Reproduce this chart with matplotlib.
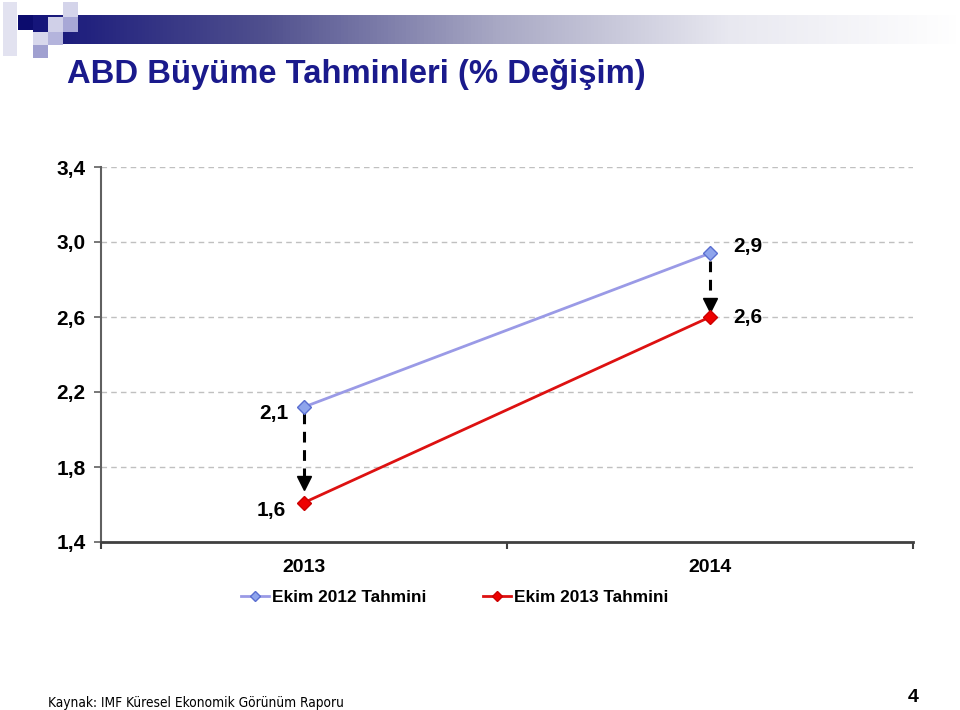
import numpy as np
import matplotlib
matplotlib.use("Agg")
import matplotlib.pyplot as plt
from matplotlib import font_manager
from matplotlib.patches import Rectangle
from matplotlib.colors import LinearSegmentedColormap

plt.rcParams['font.family'] = ['Liberation Sans', 'DejaVu Sans']

# veriler
years = ['2013', '2014']
series_names = ['Ekim 2012 Tahmini', 'Ekim 2013 Tahmini']
ekim2012 = [2.12, 2.94]
ekim2013 = [1.61, 2.6]
y_ticks = [1.4, 1.8, 2.2, 2.6, 3.0, 3.4]
title = 'ABD Büyüme Tahminleri (% Değişim)'
source = 'Kaynak: IMF Küresel Ekonomik Görünüm Raporu'
page_no = '4'


def tr_fmt(v):
    return f'{v:.1f}'.replace('.', ',')


# dar sans yazı tipi (varsa)
narrow = None
for f in font_manager.fontManager.ttflist:
    if 'Sans' in f.name and 'Mono' not in f.name and f.style == 'normal' \
            and f.weight in (400, 'normal') and ('Narrow' in f.name or f.stretch == 'condensed'):
        narrow = f.fname
        break

fig = plt.figure(figsize=(9.6, 7.1), dpi=100)

# --- üst dekor (gradyan bant ve kareler) ---
deco = fig.add_axes([0, 0, 1, 1], zorder=0)
deco.set_xlim(0, 960)
deco.set_ylim(710, 0)
deco.axis('off')
grad = LinearSegmentedColormap.from_list('bar', ['#15157a', '#50508e', '#a8a8c4', '#e8e8f0', '#ffffff'])
deco.imshow(np.linspace(0, 1, 256)[None, :], cmap=grad, aspect='auto',
            extent=[33, 960, 44, 15], zorder=1)
squares = [
    (3, 2, 14, 54, '#e2e2f0'),
    (18, 15, 15, 15, '#0c0c6e'),
    (48, 17, 15, 15, '#d0d0e8'),
    (63, 2, 15, 15, '#d4d4ea'),
    (63, 17, 15, 15, '#a8a8d6'),
    (33, 32, 15, 13, '#d8d8ec'),
    (48, 32, 15, 13, '#b4b4dc'),
    (33, 45, 15, 13, '#a0a0d0'),
]
for sx, sy, sw, sh, sc in squares:
    deco.add_patch(Rectangle((sx, sy), sw, sh, facecolor=sc, edgecolor='none', zorder=2))

fig.text(67 / 960, 1 - 75 / 710, title, fontsize=23.6, fontweight='bold',
         color='#1a1a8c', ha='left', va='center')

# --- grafik ---
ax = fig.add_axes([101 / 960, 1 - 542 / 710, 812 / 960, 375 / 710], zorder=2)
ax.patch.set_alpha(0)
x = np.arange(len(years))

ax.plot(x, ekim2012, color='#9a9ae6', lw=2, marker='D', markersize=7,
        markerfacecolor='#8ea4ec', markeredgecolor='#5a6ed0', label=series_names[0], zorder=3)
ax.plot(x, ekim2013, color='#dd1111', lw=2, marker='D', markersize=7,
        markerfacecolor='#ee0000', markeredgecolor='#cc0000', label=series_names[1], zorder=3)

# düşüşü gösteren kesikli oklar
arrow_gap = [(0.03, 0.07), (0.04, 0.03)]
for i in range(len(years)):
    top = ekim2012[i] - arrow_gap[i][0]
    tip = ekim2013[i] + arrow_gap[i][1]
    ax.plot([x[i], x[i]], [top, tip + 0.02], color='black', lw=2.2,
            linestyle=(0, (3.5, 2.5)), zorder=2)
    ax.plot(x[i], tip + 0.035, marker='v', color='black', markersize=10.5, zorder=2)

# değer etiketleri
lab_style = dict(fontsize=15, fontweight='bold', va='center', textcoords='offset pixels')
offsets = {(0, 0): (-15, -6, 'right'), (1, 0): (-18, -8, 'right'),
           (0, 1): (23, 7, 'left'), (1, 1): (23, 0, 'left')}
for s, vals in enumerate([ekim2012, ekim2013]):
    for i, v in enumerate(vals):
        dx, dy, ha = offsets[(s, i)]
        ax.annotate(tr_fmt(v), (x[i], v), xytext=(dx, dy), ha=ha, **lab_style)

ax.set_xlim(-0.5, 1.5)
ax.set_ylim(1.4, 3.4)
ax.set_yticks(y_ticks)
ax.set_yticklabels([tr_fmt(t) for t in y_ticks], fontsize=15, fontweight='bold')
ax.set_xticks(x)
ax.set_xticklabels(years, fontsize=14, fontweight='bold')
ax.set_xticks([-0.5, 0.5, 1.5], minor=True)
ax.tick_params(axis='x', which='major', length=0, pad=12)
ax.tick_params(axis='x', which='minor', length=5, width=1.5, color='#404040', direction='out')
ax.tick_params(axis='y', length=5, width=1.2, color='#606060', pad=6)

for yv in y_ticks[1:]:
    ax.axhline(yv, color='#c0c0c0', lw=1, linestyle=(0, (4, 3)), zorder=1)

ax.spines['top'].set_visible(False)
ax.spines['right'].set_visible(False)
ax.spines['left'].set_color('#606060')
ax.spines['left'].set_linewidth(1.5)
ax.spines['bottom'].set_color('#404040')
ax.spines['bottom'].set_linewidth(2)

fig.legend(loc='center', bbox_to_anchor=(455 / 960, 1 - 597 / 710), ncol=2, frameon=False,
           prop={'size': 12.4, 'weight': 'bold'}, handlelength=1.6, handletextpad=0.2,
           columnspacing=3.3, markerscale=0.8)

if narrow:
    src_font = dict(fontproperties=font_manager.FontProperties(fname=narrow, size=9.8))
else:
    src_font = dict(fontsize=9.8)
fig.text(48 / 960, 1 - 703 / 710, source, ha='left', va='center', **src_font)
fig.text(913 / 960, 1 - 698 / 710, page_no, fontsize=14, fontweight='bold',
         ha='center', va='center')

fig.savefig('out.png', dpi=100)
